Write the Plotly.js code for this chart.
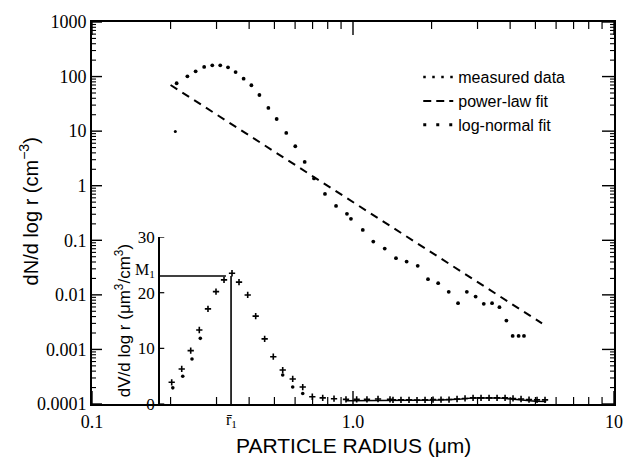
<!DOCTYPE html>
<html>
<head>
<meta charset="utf-8">
<script src="https://cdn.plot.ly/plotly-3.0.1.min.js"></script>
<style>html,body{margin:0;padding:0;background:#fff;}#chart{width:626px;height:465px;}</style>
</head>
<body>
<div id="chart"></div>
<script>
// ---- Main panel: dN/d log r (log-log) ----
var measuredR = [0.211,0.232,0.2495,0.269,0.289,0.310,0.332,0.355,0.381,0.408,0.438,0.474,0.510,0.555,0.601,0.653,0.709,0.781,0.861,0.948,0.982,1.09,1.196,1.323,1.461,1.605,1.77,1.938,2.12,2.327,2.526,2.73,2.95,3.17,3.41,3.64,3.87,4.09,4.31,4.52];
var measuredN = [75.4,101,125,150,161,161,148,121,91.5,69.3,46,26.6,16.7,9.27,5.29,2.73,1.36,0.708,0.427,0.305,0.247,0.155,0.0946,0.0705,0.047,0.0407,0.034,0.0194,0.0164,0.01135,0.00705,0.01135,0.0093,0.00684,0.00705,0.00595,0.00338,0.00177,0.00177,0.00177];
var lognormalR = [0.2085];
var lognormalN = [9.8];
var powerLawR = [0.2, 5.3];
var powerLawN = [70, 0.003];

// ---- Inset: dV/d log r (linear) ----
var insetMeasR = [0.202,0.2207,0.2389,0.2577,0.2782,0.2986,0.3205,0.3439,0.3658,0.395,0.4238,0.4587,0.495,0.5379,0.5875,0.6418,0.6984,0.7656,0.8458,0.940,1.033,1.131,1.247,1.386];
var insetMeasV = [3.9,6.3,9.6,13.3,17.1,20.2,22.3,23.5,21.9,19.6,15.8,11.7,8.5,6.1,4.5,3.05,1.3,1.1,0.95,0.84,0.84,0.84,0.9,0.84];
var insetFitR  = [0.204,0.2227,0.2416,0.260,0.5379,0.5875,0.6418];
var insetFitV  = [2.9,5.0,8.1,11.8,5.2,3.05,1.9];
var tailR = [1.423,1.527,1.639,1.759,1.888,2.026,2.174,2.333,2.504,2.687,2.884,3.094,3.321,3.564,3.825,4.103,4.404,4.725,5.070,5.441];
var tailV = [0.75,0.75,0.75,0.7,0.75,0.8,0.8,0.8,0.9,1.0,1.1,1.1,1.1,1.1,1.1,1.0,0.9,0.8,0.75,0.75];
var coarseR = [0.94,1.5,2.2,2.6,2.9,3.6,4.2,5.0,5.5];
var coarseV = [0.6,0.6,0.7,0.9,1.1,1.1,0.8,0.5,0.45];
var insetAxisR = 0.181;   // where the inset's y axis sits
var r1 = 0.341;           // mode radius r̄1
var M1 = 23.0;            // peak value M1
var M1lineEndR = 0.326;

var xTickVals = [0.1, 1, 10];
var xTickText = ['0.1', '1.0', '10'];
var yTickVals = [1000,100,10,1,0.1,0.01,0.001,0.0001];
var yTickText = ['1000','100','10','1','0.1','0.01','0.001','0.0001'];
var insetTicks = [0,10,20,30];

var serif = 'Liberation Serif, Times New Roman, serif';
var sans = 'Liberation Sans, Arial, sans-serif';

var PW = 522, PH = 382;          // plot area size in px
var X_DEC = PW / 2, Y_DEC = PH / 7; // px per decade on each log axis

function minorVals(lo, hi){ var a=[]; for(var e=lo;e<hi;e++){ for(var k=2;k<=9;k++){ a.push(k*Math.pow(10,e)); } } return a; }
// tick segments in data units of the main log axes (length given in px, converted to decades)
function xTicks(vals, base, lenPx, dir){ var f=Math.pow(10, dir*lenPx/Y_DEC), xs=[], ys=[]; vals.forEach(function(v){ xs.push(v,v,null); ys.push(base, base*f, null); }); return {x:xs, y:ys}; }
function yTicks(vals, base, lenPx, dir){ var f=Math.pow(10, dir*lenPx/X_DEC), xs=[], ys=[]; vals.forEach(function(v){ ys.push(v,v,null); xs.push(base, base*f, null); }); return {x:xs, y:ys}; }

var traces = [
  {x: measuredR, y: measuredN, mode:'markers', marker:{size:3.8, color:'#000'}, xaxis:'x', yaxis:'y', showlegend:false, hoverinfo:'skip'},
  {x: lognormalR, y: lognormalN, mode:'markers', marker:{size:3, color:'#000'}, xaxis:'x', yaxis:'y', showlegend:false, hoverinfo:'skip'},
  {x: powerLawR, y: powerLawN, mode:'lines', line:{color:'#000', width:2, dash:'8px,6px'}, xaxis:'x', yaxis:'y', showlegend:false, hoverinfo:'skip'},
  {x: coarseR, y: coarseV, mode:'lines', line:{color:'#000', width:1.5}, xaxis:'x', yaxis:'y2', showlegend:false, hoverinfo:'skip'},
  {x: insetMeasR.concat(tailR), y: insetMeasV.concat(tailV), mode:'markers', marker:{symbol:'cross-thin', size:4.5, line:{color:'#000', width:1.6}, color:'#000'}, xaxis:'x', yaxis:'y2', showlegend:false, hoverinfo:'skip'},
  {x: insetFitR, y: insetFitV, mode:'markers', marker:{size:3.6, color:'#000'}, xaxis:'x', yaxis:'y2', showlegend:false, hoverinfo:'skip'},
  {x: [insetAxisR, M1lineEndR], y: [M1, M1], mode:'lines', line:{color:'#000', width:1.6}, xaxis:'x', yaxis:'y2', showlegend:false, hoverinfo:'skip'},
  {x: [r1, r1], y: [0, M1], mode:'lines', line:{color:'#000', width:1.6}, xaxis:'x', yaxis:'y2', showlegend:false, hoverinfo:'skip'}
];

function tickTrace(t, ya, w){ return {x:t.x, y:t.y, mode:'lines', line:{color:'#000', width:w}, xaxis:'x', yaxis:ya, showlegend:false, hoverinfo:'skip', connectgaps:false, cliponaxis:false}; }
var xMinor = minorVals(-1, 1), yMinor = minorVals(-4, 3);
var yLo = 1e-4, yHi = 1e3, xLo = 0.1, xHi = 10;
traces.push(tickTrace(xTicks(xTickVals, yLo, 13, 1), 'y', 1.4));
traces.push(tickTrace(xTicks(xMinor, yLo, 7, 1), 'y', 1.2));
traces.push(tickTrace(xTicks(xTickVals, yHi, 13, -1), 'y', 1.4));
traces.push(tickTrace(xTicks(xMinor, yHi, 7, -1), 'y', 1.2));
traces.push(tickTrace(yTicks(yTickVals, xLo, 10, 1), 'y', 1.4));
traces.push(tickTrace(yTicks(yMinor, xLo, 4, 1), 'y', 1.1));
traces.push(tickTrace(yTicks(yTickVals, xHi, 12, -1), 'y', 1.4));
traces.push(tickTrace(yTicks(yMinor, xHi, 4, -1), 'y', 1.1));
traces.push(tickTrace(yTicks(insetTicks, insetAxisR, 5, 1), 'y2', 1.2));

// legend proxies
traces.push({x:[null], y:[null], mode:'lines', name:'measured data', line:{color:'#000', width:2.5, dash:'2.5px,6.5px'}, xaxis:'x', yaxis:'y'});
traces.push({x:[null], y:[null], mode:'lines', name:'power-law fit', line:{color:'#000', width:2, dash:'8px,5px'}, xaxis:'x', yaxis:'y'});
traces.push({x:[null], y:[null], mode:'lines', name:'log-normal fit', line:{color:'#000', width:3, dash:'3px,10px'}, xaxis:'x', yaxis:'y'});

var insetPos = (Math.log10(insetAxisR)+1)/2;

var layout = {
  width: 626, height: 465,
  margin: {l:92, r:12, t:22, b:61, pad:0},
  paper_bgcolor: '#fff',
  plot_bgcolor: 'rgba(0,0,0,0)',
  showlegend: true,
  legend: {x:0.625, y:0.90, xanchor:'left', yanchor:'top', bgcolor:'rgba(0,0,0,0)',
           font:{family:sans, size:16, color:'#000'}, tracegroupgap:0, itemwidth:30},
  xaxis: {
    type:'log', range:[-1, 1], domain:[0,1], anchor:'y',
    tickvals:xTickVals, ticktext:xTickText, ticks:'',
    showline:true, linewidth:2, linecolor:'#000', mirror:true,
    showgrid:false, zeroline:false, automargin:false,
    tickfont:{family:serif, size:18, color:'#000'}
  },
  yaxis: {
    type:'log', range:[-4, 3], domain:[0,1], anchor:'x',
    tickvals:yTickVals, ticktext:yTickText, ticks:'',
    showline:true, linewidth:2, linecolor:'#000', mirror:true,
    showgrid:false, zeroline:false, automargin:false,
    tickfont:{family:serif, size:18, color:'#000'}
  },
  yaxis2: {
    range:[0, 30], domain:[0, 0.437], anchor:'free', position:insetPos, side:'left',
    tickvals:insetTicks, ticks:'',
    showline:true, linewidth:2, linecolor:'#000',
    showgrid:false, zeroline:false, automargin:false,
    tickfont:{family:serif, size:17, color:'#000'},
    title:{text:'dV/d log r (\u03bcm<sup>3</sup>/cm<sup>3</sup>)', font:{family:sans, size:17, color:'#000'}, standoff:2}
  },
  annotations: [
    {xref:'paper', yref:'paper', x:0.5, y:-0.108, xanchor:'center', yanchor:'middle',
     text:'PARTICLE RADIUS (\u03bcm)', showarrow:false, font:{family:sans, size:21, color:'#000'}},
    {xref:'paper', yref:'paper', x:-0.122, y:0.505, xanchor:'center', yanchor:'middle', textangle:-90,
     text:'dN/d log r (cm<sup>\u22123</sup>)', showarrow:false, font:{family:sans, size:20, color:'#000'}},
    {xref:'paper', yref:'y2', x:insetPos, y:M1, xanchor:'right', yanchor:'middle', xshift:-2, yshift:6,
     text:'M<sub>1</sub>', showarrow:false, font:{family:serif, size:16, color:'#000'}},
    {xref:'x', yref:'paper', x:Math.log10(r1), y:0, xanchor:'center', yanchor:'top', yshift:-5,
     text:'r\u0304<sub>1</sub>', showarrow:false, font:{family:serif, size:16, color:'#000'}}
  ]
};

Plotly.newPlot('chart', traces, layout, {staticPlot:true, displayModeBar:false});
</script>
</body>
</html>
